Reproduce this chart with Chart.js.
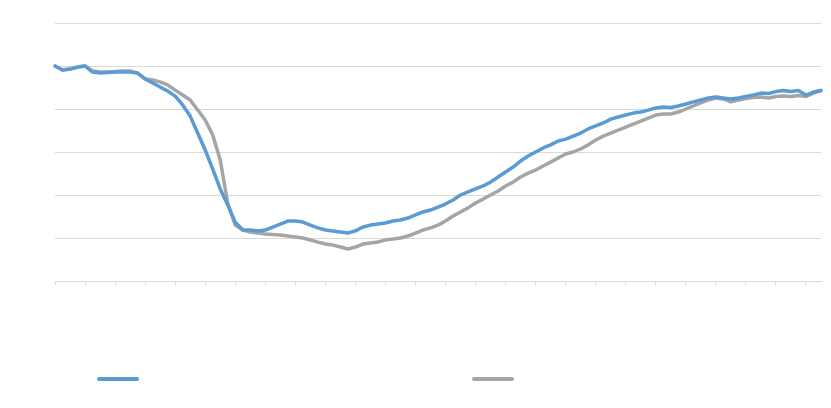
<!DOCTYPE html>
<html>
<head>
<meta charset="utf-8">
<script src="https://cdn.jsdelivr.net/npm/chart.js@4/dist/chart.umd.min.js"></script>
<style>
  html, body { margin: 0; padding: 0; background: #ffffff; }
  #wrap { width: 831px; height: 408px; }
</style>
</head>
<body>
<div id="wrap"><canvas id="c" width="831" height="408"></canvas></div>
<script>
// Category positions (no labels visible in the reference)
const categories = Array.from({ length: 103 }, (_, i) => String(i + 1));

// Y-axis gridline values (labels hidden in the reference)
const yTicks = [0, 20, 40, 60, 80, 100, 120];

// Series 1 (blue)
const seriesBlue = [
  100.0, 98.1, 98.6, 99.5, 100.0, 97.2, 96.7, 97.0, 97.2, 97.2,
  97.2, 96.7, 94.0, 92.1, 90.2, 88.4, 86.0, 81.9, 76.7, 68.8,
  60.9, 52.1, 42.8, 35.3, 27.4, 23.7, 23.7, 23.3, 23.7, 25.1,
  26.5, 27.9, 27.9, 27.4, 26.0, 24.7, 23.7, 23.3, 22.8, 22.3,
  23.3, 25.1, 26.0, 26.5, 27.0, 27.9, 28.4, 29.3, 30.7, 32.1,
  33.0, 34.4, 35.8, 37.7, 40.0, 41.4, 42.8, 44.2, 46.0, 48.4,
  50.7, 53.0, 55.8, 58.1, 60.0, 61.9, 63.3, 65.1, 66.0, 67.4,
  68.8, 70.7, 72.1, 73.5, 75.3, 76.3, 77.2, 78.1, 78.6, 79.5,
  80.5, 80.9, 80.7, 81.4, 82.3, 83.3, 84.2, 85.1, 85.6, 85.1,
  84.7, 85.1, 85.8, 86.5, 87.4, 87.2, 88.1, 88.6, 88.1, 88.6,
  86.5, 87.9, 88.6
];

// Series 2 (gray)
const seriesGray = [
  100.0, 98.1, 98.6, 99.5, 100.0, 97.7, 97.2, 97.2, 97.4, 97.7,
  97.7, 96.7, 94.0, 93.5, 92.6, 91.2, 88.8, 86.5, 84.2, 79.5,
  74.9, 67.9, 56.3, 36.3, 26.0, 23.7, 22.8, 22.3, 21.9, 21.6,
  21.4, 20.9, 20.5, 20.0, 19.1, 18.1, 17.2, 16.7, 15.8, 14.9,
  15.8, 17.2, 17.7, 18.1, 19.1, 19.5, 20.0, 20.9, 22.3, 23.7,
  24.7, 26.0, 27.9, 30.2, 32.1, 34.0, 36.3, 38.1, 40.0, 41.9,
  44.2, 46.0, 48.4, 50.2, 51.6, 53.5, 55.3, 57.2, 59.1, 60.0,
  61.4, 63.3, 65.6, 67.4, 68.8, 70.2, 71.6, 73.0, 74.4, 75.8,
  77.2, 77.7, 77.7, 78.6, 80.0, 81.4, 82.8, 84.2, 85.1, 84.7,
  83.3, 84.2, 84.9, 85.3, 85.6, 85.1, 85.8, 86.0, 85.8, 86.3,
  85.8, 87.4, 88.6
];

const TICK_EVERY = 4;

// Legend drawn from the chart's own datasets (reference legend has no visible text)
const legendPlugin = {
  id: 'lineLegend',
  afterDraw(chart) {
    const ctx = chart.ctx;
    const starts = [97, 472];
    const len = 42;
    const y = 379;
    ctx.save();
    chart.data.datasets.forEach((ds, i) => {
      ctx.beginPath();
      ctx.strokeStyle = ds.borderColor;
      ctx.lineWidth = 4;
      ctx.lineCap = 'round';
      ctx.moveTo(starts[i] + 2, y);
      ctx.lineTo(starts[i] + len - 2, y);
      ctx.stroke();
    });
    ctx.restore();
  }
};

new Chart(document.getElementById('c'), {
  type: 'line',
  data: {
    labels: categories,
    datasets: [
      {
        label: '',
        data: seriesBlue,
        borderColor: '#5b9bd5',
        backgroundColor: '#5b9bd5',
        borderWidth: 3.5,
        pointRadius: 0,
        tension: 0,
        borderJoinStyle: 'round',
        borderCapStyle: 'round'
      },
      {
        label: '',
        data: seriesGray,
        borderColor: '#a5a5a5',
        backgroundColor: '#a5a5a5',
        borderWidth: 3.5,
        pointRadius: 0,
        tension: 0,
        borderJoinStyle: 'round',
        borderCapStyle: 'round'
      }
    ]
  },
  options: {
    responsive: false,
    animation: false,
    devicePixelRatio: 1,
    layout: { padding: { left: 55, right: 10, top: 23, bottom: 123 } },
    plugins: {
      legend: { display: false },
      tooltip: { enabled: false },
      title: { display: false }
    },
    scales: {
      x: {
        type: 'category',
        offset: false,
        ticks: { display: false, autoSkip: false },
        grid: {
          drawOnChartArea: false,
          drawTicks: true,
          tickLength: 4,
          lineWidth: 1,
          color: (c) => (c.index % TICK_EVERY === 0 ? '#d9d9d9' : 'rgba(0,0,0,0)')
        },
        border: { display: true, color: '#d9d9d9', width: 1 }
      },
      y: {
        min: yTicks[0],
        max: yTicks[yTicks.length - 1],
        ticks: { display: false, stepSize: yTicks[1] - yTicks[0] },
        grid: { drawTicks: false, color: '#d9d9d9', lineWidth: 1 },
        border: { display: false }
      }
    }
  },
  plugins: [legendPlugin]
});
</script>
</body>
</html>
